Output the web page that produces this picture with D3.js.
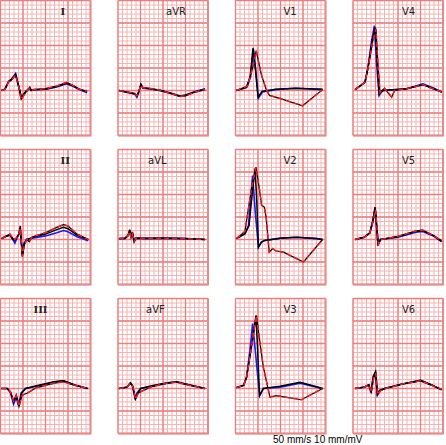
<!DOCTYPE html>
<html><head><meta charset="utf-8">
<script src="https://cdn.jsdelivr.net/npm/d3@7"></script>
<style>body{margin:0;background:#fff}svg{display:block}</style>
</head><body>
<svg id="c" width="446" height="445"></svg>
<script>
// Lead layout (rows of 4)
const leadNames = ["I","aVR","V1","V4","II","aVL","V2","V5","III","aVF","V3","V6"];
// Each trace: [time ms, amplitude mV]
const I_blue  = [[5,0.0],[20,0.03],[36,0.2],[50,0.25],[67,0.38],[80,0.1],[92,-0.15],[100,-0.12],[112,-0.03],[125,0.03],[130,0.06],[136,0.0],[150,0.01],[200,0.03],[250,0.08],[293,0.15],[320,0.1],[350,0.02],[385,-0.05]];
const I_black = [[5,0.0],[20,0.03],[36,0.2],[50,0.26],[67,0.36],[80,0.12],[92,-0.13],[100,-0.1],[112,-0.02],[125,0.04],[130,0.07],[136,0.01],[150,0.02],[200,0.03],[250,0.09],[293,0.16],[320,0.11],[350,0.03],[385,-0.03]];
const I_red   = [[5,0.0],[20,0.03],[36,0.19],[50,0.24],[67,0.34],[80,0.1],[92,-0.2],[100,-0.14],[112,-0.04],[125,0.03],[130,0.05],[136,0.0],[150,0.02],[200,0.04],[250,0.1],[293,0.18],[320,0.12],[350,0.03],[385,-0.02]];
const aVR_blue  = [[4,0.0],[50,-0.05],[75,-0.08],[84,-0.15],[92,-0.05],[102,0.13],[111,0.05],[140,0.04],[187,0.0],[230,-0.06],[276,-0.13],[300,-0.11],[340,-0.03],[387,0.04]];
const aVR_black = [[4,0.0],[50,-0.05],[75,-0.07],[84,-0.13],[92,-0.03],[102,0.14],[111,0.06],[140,0.04],[187,0.0],[230,-0.05],[276,-0.12],[300,-0.1],[340,-0.03],[387,0.03]];
const aVR_red   = [[4,0.0],[50,-0.04],[75,-0.07],[84,-0.12],[92,-0.02],[102,0.12],[111,0.06],[140,0.05],[187,0.01],[230,-0.06],[276,-0.13],[300,-0.12],[340,-0.04],[387,0.02]];
const V1_blue  = [[4,0.0],[49,0.07],[67,0.3],[80,0.91],[89,0.5],[102,-0.17],[120,-0.03],[178,0.02],[267,0.05],[387,0.02]];
const V1_black = [[4,0.0],[49,0.07],[65,0.3],[78,0.95],[88,0.5],[100,-0.15],[118,-0.02],[178,0.03],[267,0.05],[387,0.03]];
const V1_red   = [[4,0.0],[53,0.1],[76,0.5],[92,0.88],[115,0.35],[136,0.03],[151,-0.11],[200,-0.18],[298,-0.34],[387,0.02]];
const V2_blue  = [[4,0.02],[42,0.13],[58,0.31],[67,0.9],[76,1.42],[88,0.6],[102,-0.17],[115,-0.06],[130,-0.02],[200,0.03],[271,0.05],[360,0.02],[387,0.0]];
const V2_black = [[4,0.02],[42,0.13],[60,0.31],[72,0.9],[87,1.58],[95,0.8],[102,-0.17],[115,-0.06],[130,-0.02],[200,0.03],[271,0.05],[360,0.02],[387,0.0]];
const V2_red   = [[4,0.02],[42,0.18],[71,1.13],[91,1.61],[106,1.13],[116,0.76],[128,0.72],[136,0.5],[150,-0.28],[165,-0.2],[178,-0.25],[213,-0.28],[302,-0.5],[387,0.0]];
const V3_blue  = [[4,0.02],[36,0.07],[49,0.25],[64,0.84],[76,1.44],[85,1.0],[107,-0.16],[124,0.0],[198,0.03],[287,0.12],[360,0.03],[387,0.0]];
const V3_black = [[4,0.02],[36,0.07],[49,0.25],[70,0.9],[91,1.62],[98,0.9],[107,-0.16],[124,0.0],[198,0.05],[287,0.14],[360,0.04],[387,0.0]];
const V3_red   = [[4,0.02],[36,0.07],[49,0.25],[70,0.9],[93,1.62],[109,1.0],[124,0.47],[153,-0.19],[182,-0.16],[293,-0.25],[387,0.0]];
const V4_blue  = [[9,0.02],[53,0.18],[67,0.52],[83,1.11],[95,1.44],[105,0.6],[116,-0.11],[130,0.0],[239,0.04],[311,0.15],[360,0.05],[394,-0.04]];
const V4_black = [[9,0.02],[53,0.18],[67,0.52],[85,1.1],[98,1.4],[108,0.6],[116,-0.08],[135,0.0],[239,0.04],[311,0.13],[360,0.04],[394,-0.03]];
const V4_red   = [[9,0.02],[53,0.18],[67,0.5],[88,1.1],[102,1.37],[112,0.5],[120,-0.05],[140,0.05],[155,-0.05],[172,-0.15],[185,0.0],[239,0.04],[311,0.13],[360,0.03],[394,-0.03]];
const II_blue  = [[5,0.02],[20,0.06],[42,0.1],[55,0.0],[64,-0.08],[75,0.05],[88,0.2],[96,-0.25],[105,-0.08],[115,0.0],[140,0.03],[200,0.08],[250,0.15],[280,0.2],[300,0.17],[340,0.06],[390,-0.03]];
const II_black = [[5,0.02],[20,0.06],[42,0.1],[55,0.0],[64,-0.02],[80,0.1],[88,0.3],[97,-0.36],[105,-0.1],[118,0.0],[150,0.06],[200,0.12],[250,0.22],[280,0.27],[300,0.24],[340,0.1],[390,0.0]];
const II_red   = [[5,0.02],[20,0.06],[42,0.12],[55,0.02],[64,0.0],[80,0.1],[88,0.25],[97,-0.38],[107,-0.1],[118,0.0],[128,-0.05],[140,0.05],[160,0.09],[200,0.15],[250,0.27],[280,0.33],[300,0.3],[340,0.12],[390,0.0]];
const aVL_blue  = [[4,0.02],[30,0.02],[45,0.08],[52,0.2],[58,0.05],[64,0.15],[72,-0.05],[80,0.03],[120,0.02],[200,0.03],[300,0.02],[387,0.0]];
const aVL_black = [[4,0.02],[30,0.02],[45,0.1],[52,0.22],[58,0.06],[64,0.17],[72,-0.03],[80,0.03],[120,0.02],[200,0.03],[300,0.02],[387,0.0]];
const aVL_red   = [[4,0.02],[30,0.03],[45,0.09],[52,0.18],[58,0.04],[64,0.12],[72,-0.04],[80,0.03],[120,0.03],[200,0.03],[300,0.02],[387,0.0]];
const V5_blue  = [[9,0.0],[50,0.05],[75,0.15],[88,0.4],[98,0.7],[106,0.2],[111,-0.13],[122,0.0],[200,0.05],[280,0.16],[310,0.18],[360,0.07],[394,-0.05]];
const V5_black = [[9,0.0],[50,0.05],[75,0.15],[88,0.42],[98,0.72],[106,0.22],[111,-0.1],[122,0.0],[200,0.06],[280,0.18],[310,0.2],[360,0.08],[394,-0.04]];
const V5_red   = [[9,0.0],[50,0.05],[75,0.15],[88,0.38],[100,0.66],[108,0.2],[113,-0.1],[124,0.0],[200,0.07],[280,0.19],[310,0.21],[360,0.08],[394,-0.03]];
const III_blue  = [[4,0.0],[30,0.0],[45,-0.1],[58,-0.35],[70,-0.2],[80,-0.38],[92,-0.1],[110,0.0],[160,0.05],[240,0.15],[280,0.17],[330,0.08],[387,0.0]];
const III_black = [[4,0.0],[30,0.0],[45,-0.08],[58,-0.3],[70,-0.15],[82,-0.38],[94,-0.1],[112,0.0],[160,0.06],[240,0.15],[280,0.17],[330,0.08],[387,0.0]];
const III_red   = [[4,0.0],[30,0.0],[45,-0.08],[58,-0.28],[70,-0.15],[82,-0.4],[96,-0.15],[120,-0.1],[160,0.02],[240,0.12],[280,0.15],[330,0.07],[387,0.0]];
const aVF_blue  = [[4,0.0],[40,0.03],[55,0.12],[65,0.05],[75,-0.2],[85,-0.1],[100,0.0],[150,0.05],[220,0.12],[260,0.15],[300,0.1],[387,0.0]];
const aVF_black = [[4,0.0],[40,0.03],[55,0.13],[65,0.06],[77,-0.22],[87,-0.1],[102,0.0],[150,0.06],[220,0.13],[260,0.15],[300,0.1],[387,0.0]];
const aVF_red   = [[4,0.0],[40,0.03],[55,0.12],[65,0.05],[78,-0.24],[90,-0.1],[110,-0.05],[150,0.04],[220,0.12],[260,0.14],[300,0.09],[387,0.0]];
const V6_blue  = [[9,0.0],[50,0.03],[70,0.08],[80,-0.1],[90,0.25],[100,0.35],[108,-0.15],[118,-0.05],[140,0.0],[220,0.1],[300,0.18],[350,0.08],[394,-0.03]];
const V6_black = [[9,0.0],[50,0.03],[70,0.08],[80,-0.08],[90,0.27],[100,0.37],[108,-0.12],[118,-0.04],[140,0.0],[220,0.1],[300,0.18],[350,0.08],[394,-0.03]];
const V6_red   = [[9,0.0],[50,0.03],[70,0.08],[82,-0.08],[92,0.24],[102,0.33],[110,-0.14],[122,-0.05],[145,0.0],[220,0.1],[300,0.17],[350,0.07],[394,-0.02]];

const traces = {
  I:[I_blue,I_black,I_red], aVR:[aVR_blue,aVR_black,aVR_red], V1:[V1_blue,V1_black,V1_red], V4:[V4_blue,V4_black,V4_red],
  II:[II_blue,II_black,II_red], aVL:[aVL_blue,aVL_black,aVL_red], V2:[V2_blue,V2_black,V2_red], V5:[V5_blue,V5_black,V5_red],
  III:[III_blue,III_black,III_red], aVF:[aVF_blue,aVF_black,aVF_red], V3:[V3_blue,V3_black,V3_red], V6:[V6_blue,V6_black,V6_red]
};
const labelX = {I:60,aVR:48,V1:48,V4:49,II:60,aVL:30,V2:48,V5:49,III:33,aVF:28,V3:48,V6:49};
const footer = "50 mm/s  10 mm/mV";

const svg = d3.select("#c");
const W = 90, H = 135;
const x = d3.scaleLinear().domain([0,400]).range([0,W]);
const y = d3.scaleLinear().domain([-1,2]).range([H,0]);
const line = d3.line().x(d=>x(d[0])).y(d=>y(d[1]));

leadNames.forEach((name,i)=>{
  const col = i%4, row = Math.floor(i/4);
  const g = svg.append("g").attr("transform",`translate(${0.5+117.5*col},${0.5+149*row})`);
  g.append("rect").attr("width",W).attr("height",H).attr("fill","#fff");
  // minor grid
  d3.range(0,401,20).forEach(t=>g.append("line").attr("x1",x(t)).attr("x2",x(t)).attr("y1",0).attr("y2",H).attr("stroke","#f5b3b3").attr("stroke-width",1));
  d3.range(-1,2.0001,0.1).forEach(v=>g.append("line").attr("y1",y(v)).attr("y2",y(v)).attr("x1",0).attr("x2",W).attr("stroke","#f5b3b3").attr("stroke-width",1));
  // major grid
  d3.range(0,401,100).forEach(t=>g.append("line").attr("x1",x(t)).attr("x2",x(t)).attr("y1",0).attr("y2",H).attr("stroke","#ee7c7c").attr("stroke-width",1.3));
  d3.range(-1,2.0001,0.5).forEach(v=>g.append("line").attr("y1",y(v)).attr("y2",y(v)).attr("x1",0).attr("x2",W).attr("stroke","#ee7c7c").attr("stroke-width",1.3));
  // right/bottom border emphasis
  g.append("path").attr("d",`M${W},0V${H}H0`).attr("fill","none").attr("stroke","#e88a8a").attr("stroke-width",2);
  const roman = /^I+$/.test(name);
  g.append("text").attr("x",labelX[name]).attr("y",14).text(name)
    .attr("font-family", roman ? "DejaVu Serif" : "DejaVu Sans")
    .attr("font-weight", roman ? "bold" : "normal")
    .attr("font-size",10).attr("fill","#222");
  const [b,k,r] = traces[name];
  g.append("path").attr("d",line(b)).attr("fill","none").attr("stroke","#1a1aff").attr("stroke-width",1.6);
  g.append("path").attr("d",line(k)).attr("fill","none").attr("stroke","#000").attr("stroke-width",1.5);
  g.append("path").attr("d",line(r)).attr("fill","none").attr("stroke","#000").attr("stroke-width",1.2);
  g.append("path").attr("d",line(r)).attr("fill","none").attr("stroke","#ee1c24").attr("stroke-width",1.5).attr("stroke-dasharray","5,3");
});
svg.append("text").attr("x",273).attr("y",443).text(footer)
  .attr("font-family","Liberation Sans, Arial, sans-serif").attr("font-size",10).attr("fill","#000");
</script>
</body></html>
